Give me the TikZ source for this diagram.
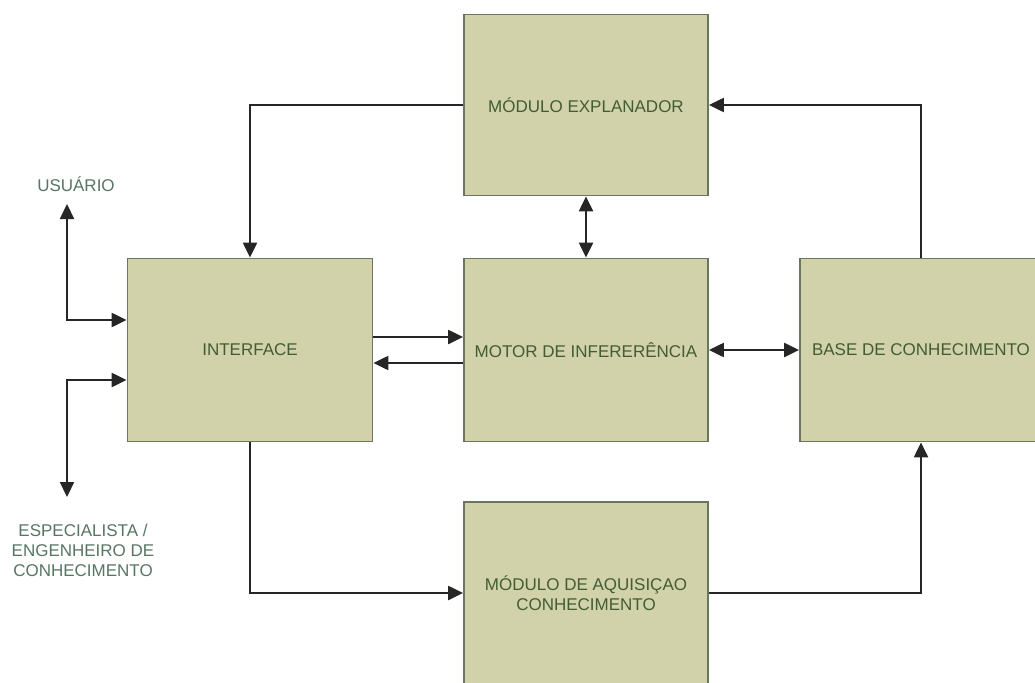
\documentclass[tikz,border=0pt]{standalone}
\usepackage{fontspec}
\setmainfont{Liberation Sans}
\usetikzlibrary{arrows.meta}
\definecolor{boxfill}{RGB}{210,210,170}
\definecolor{boxline}{RGB}{105,118,98}
\definecolor{boxtext}{RGB}{66,92,52}
\definecolor{sidetext}{RGB}{88,118,100}
\tikzset{
  block/.style={draw=boxline, line width=1.8pt, fill=boxfill, text=boxtext,
    inner sep=0pt, align=center, font=\fontsize{17}{20}\selectfont},
  sidelabel/.style={text=sidetext, align=center, inner sep=0pt,
    font=\fontsize{17}{20}\selectfont},
  link/.style={line width=2.2pt, draw=black!85},
  arr/.style={link, -{Triangle[length=15pt,width=14pt]}},
  dbl/.style={link, {Triangle[length=15pt,width=14pt]}-{Triangle[length=15pt,width=14pt]}}
}
\begin{document}
\begin{tikzpicture}[x=1pt, y=-1pt]
\useasboundingbox (0,0) rectangle (1035,682);
\clip (0,0) rectangle (1035,682);
\fill[white] (0,0) rectangle (1035,682);

% blocks
\node[block, minimum width=244pt, minimum height=181pt] (expl)  at (586,105) {MÓDULO EXPLANADOR};
\node[block, minimum width=245pt, minimum height=183pt] (iface) at (250,350) {INTERFACE};
\node[block, minimum width=244pt, minimum height=183pt] (motor) at (586,350) {MOTOR DE INFERERÊNCIA};
\node[block, minimum width=242pt, minimum height=183pt] (base)  at (921,350) {BASE DE CONHECIMENTO};
\node[block, minimum width=244pt, minimum height=182pt] (aquis) at (586,593) {MÓDULO DE AQUISIÇAO\\CONHECIMENTO};

% outside actors
\node[sidelabel] (usuario) at (76,184) {USUÁRIO};
\node[sidelabel] (espec) at (83,550) {ESPECIALISTA /\\ENGENHEIRO DE\\CONHECIMENTO};
\coordinate (uend) at (67,204);
\coordinate (eend) at (67,497);

% connectors
\draw[arr] (expl.west) -| (iface.north);
\draw[arr] (base.north) |- (expl.east);
\draw[dbl] (expl.south) -- (motor.north);
\draw[arr] (iface.east |- 0,337) -- (motor.west |- 0,337);
\draw[arr] (motor.west |- 0,363) -- (iface.east |- 0,363);
\draw[dbl] (motor.east) -- (base.west);
\draw[arr] (iface.south) |- (aquis.west);
\draw[arr] (aquis.east) -| (base.south);
\draw[dbl] (uend) |- (iface.west |- 0,320);
\draw[dbl] (eend) |- (iface.west |- 0,380);
\end{tikzpicture}
\end{document}
